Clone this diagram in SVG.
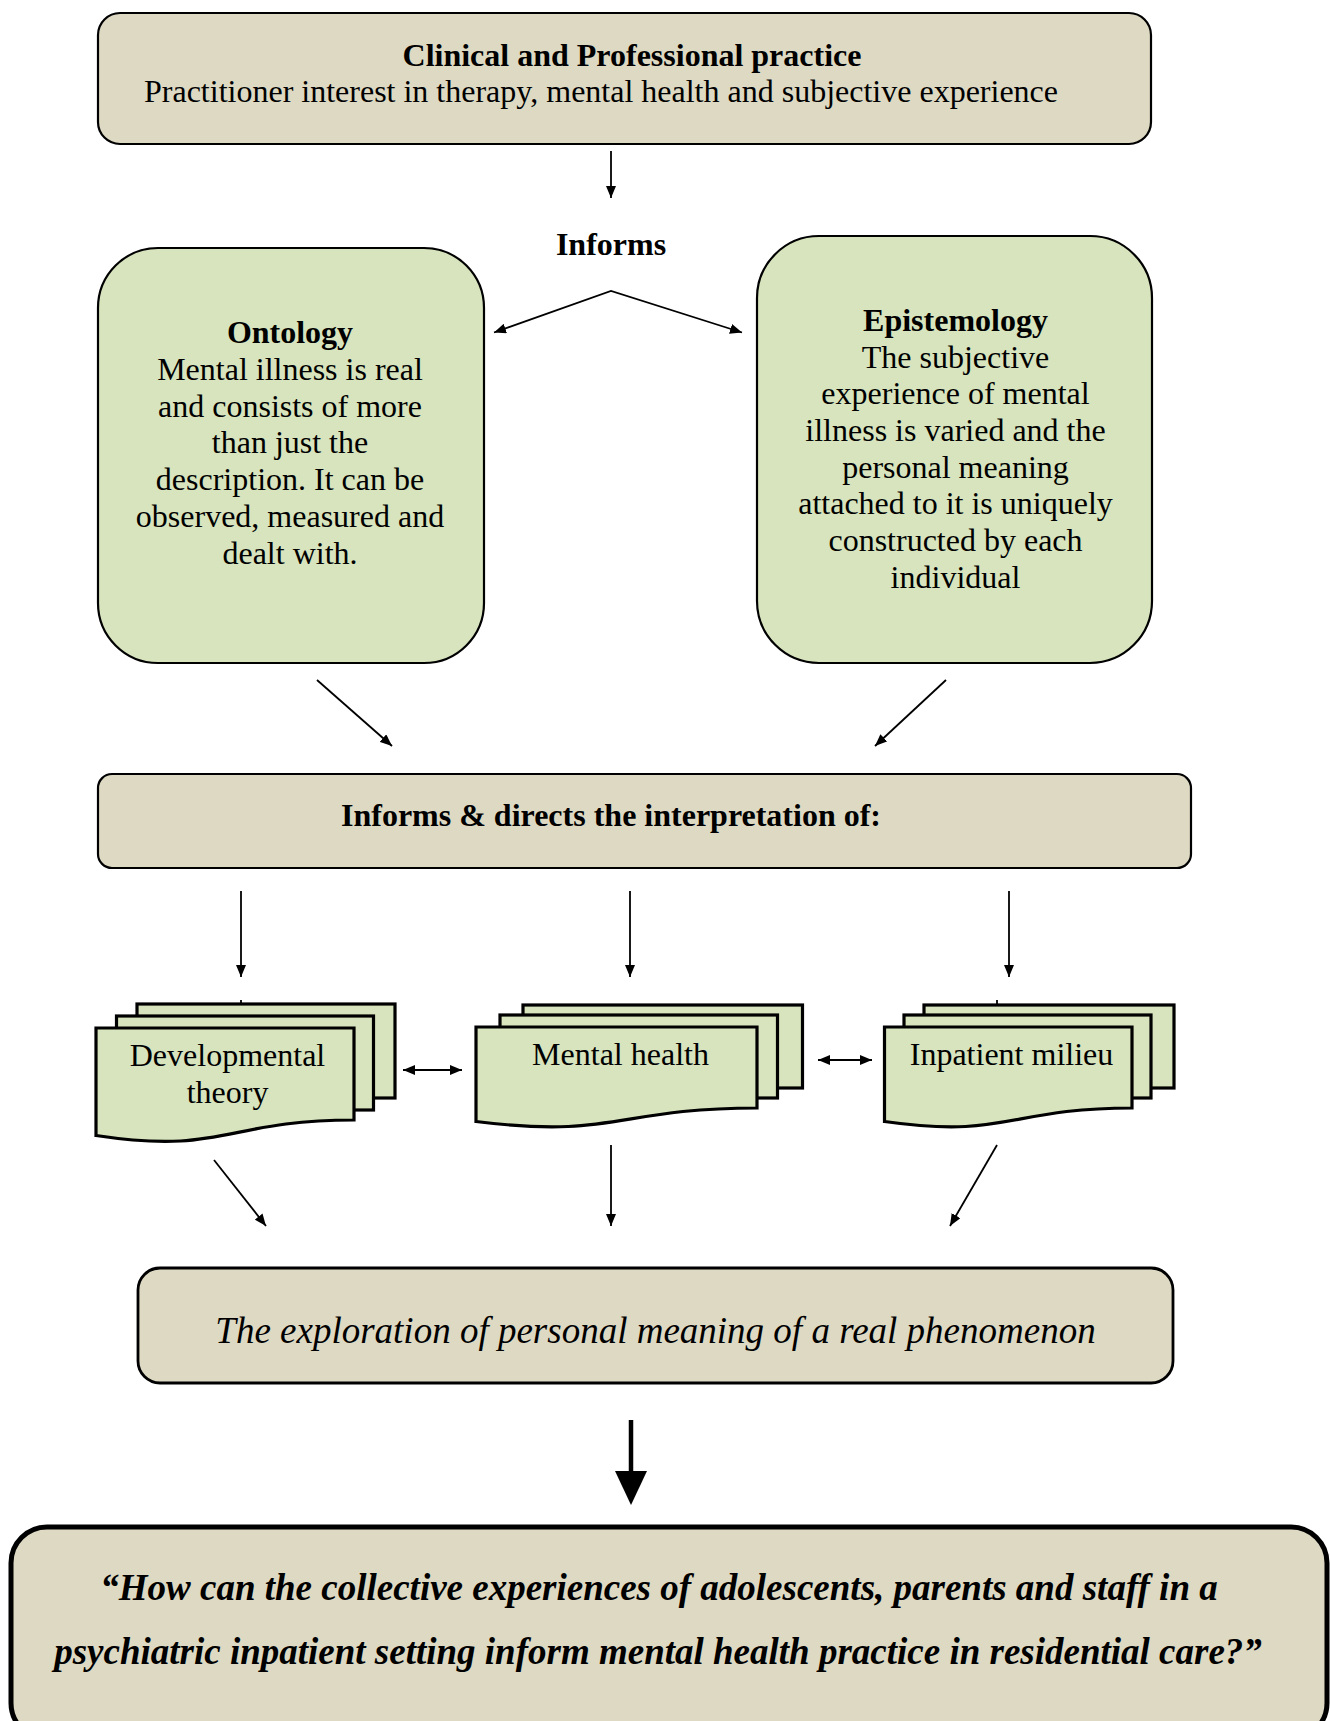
<svg xmlns="http://www.w3.org/2000/svg" width="1330" height="1721" viewBox="0 0 1330 1721">
<defs>
<style>
text{font-family:"Liberation Serif","Times New Roman",serif;fill:#000;text-anchor:middle}
.t{font-size:32px}
.b{font-size:32px;font-weight:bold}
.beige{fill:#ddd9c3;stroke:#000;stroke-width:2.2}
.green{fill:#d7e4bd;stroke:#000;stroke-width:2.2}
.doc{fill:#d7e4bd;stroke:#000;stroke-width:3.2;stroke-linejoin:miter}
.ln{fill:none;stroke:#000;stroke-width:1.8}
</style>
<marker id="ah" viewBox="0 0 12 10" refX="12" refY="5" markerWidth="12" markerHeight="10" markerUnits="userSpaceOnUse" orient="auto-start-reverse">
<path d="M0,0 L12,5 L0,10 z" fill="#000"/>
</marker>
</defs>
<rect width="1330" height="1721" fill="#fff"/>

<g id="clinical">
<rect class="beige" x="98" y="13" width="1053" height="131" rx="22"/>
<text class="b" x="632" y="66">Clinical and Professional practice</text>
<text class="t" x="601" y="102">Practitioner interest in therapy, mental health and subjective experience</text>
</g>

<g id="informs-label">
<text class="b" x="611" y="255">Informs</text>
</g>

<g id="ontology">
<rect class="green" x="98" y="248" width="386" height="415" rx="60"/>
<text class="b" x="290" y="343">Ontology</text>
<text class="t" x="290" y="380">Mental illness is real</text>
<text class="t" x="290" y="416.5">and consists of more</text>
<text class="t" x="290" y="453">than just the</text>
<text class="t" x="290" y="490">description. It can be</text>
<text class="t" x="290" y="527">observed, measured and</text>
<text class="t" x="290" y="564">dealt with.</text>
</g>

<g id="epistemology">
<rect class="green" x="757" y="236" width="395" height="427" rx="62"/>
<text class="b" x="955.5" y="331">Epistemology</text>
<text class="t" x="955.5" y="367.5">The subjective</text>
<text class="t" x="955.5" y="404">experience of mental</text>
<text class="t" x="955.5" y="441">illness is varied and the</text>
<text class="t" x="955.5" y="477.5">personal meaning</text>
<text class="t" x="955.5" y="514">attached to it is uniquely</text>
<text class="t" x="955.5" y="551">constructed by each</text>
<text class="t" x="955.5" y="587.5">individual</text>
</g>

<g id="interpretation">
<rect class="beige" x="98" y="774" width="1093" height="94" rx="14"/>
<text class="b" x="611" y="826">Informs &amp; directs the interpretation of:</text>
</g>

<g id="developmental">
<rect class="doc" x="137" y="1004" width="258" height="94"/>
<rect class="doc" x="116.5" y="1016" width="257" height="94"/>
<path class="doc" d="M96,1028 H354 V1120 C225,1120 225,1155 96,1135.5 Z"/>
<text class="t" x="227.5" y="1066">Developmental</text>
<text class="t" x="227.5" y="1103">theory</text>
</g>

<g id="mental-health">
<rect class="doc" x="523" y="1005" width="279.5" height="83"/>
<rect class="doc" x="500" y="1015" width="277.5" height="83"/>
<path class="doc" d="M476,1027 H757 V1108 C616.5,1108 616.5,1139 476,1121.5 Z"/>
<text class="t" x="620.5" y="1065">Mental health</text>
</g>

<g id="inpatient">
<rect class="doc" x="924" y="1005" width="250" height="83"/>
<rect class="doc" x="904" y="1015" width="247" height="83"/>
<path class="doc" d="M884.5,1027 H1132 V1108 C1008,1108 1008,1139 884.5,1121.5 Z"/>
<text class="t" x="1011.5" y="1065">Inpatient milieu</text>
</g>

<g id="exploration">
<rect class="beige" x="138" y="1268" width="1035" height="115" rx="22" style="stroke-width:2.8"/>
<text x="655.5" y="1343" style="font-size:37px;font-style:italic">The exploration of personal meaning of a real phenomenon</text>
</g>

<g id="question">
<rect x="11" y="1527" width="1316" height="212" rx="36" fill="#ddd9c3" stroke="#000" stroke-width="5"/>
<text x="659" y="1600" style="font-size:37px;font-style:italic;font-weight:bold">“How can the collective experiences of adolescents, parents and staff in a</text>
<text x="658" y="1664" style="font-size:37px;font-style:italic;font-weight:bold">psychiatric inpatient setting inform mental health practice in residential care?”</text>
</g>

<g id="connectors">
<line class="ln" x1="611" y1="151" x2="611" y2="198" marker-end="url(#ah)"/>
<path class="ln" d="M494,332.5 L611,291 L742,332.5" marker-start="url(#ah)" marker-end="url(#ah)"/>
<line class="ln" x1="317" y1="680" x2="392" y2="746" marker-end="url(#ah)"/>
<line class="ln" x1="946" y1="680" x2="875" y2="746" marker-end="url(#ah)"/>
<line class="ln" x1="241" y1="891" x2="241" y2="977" marker-end="url(#ah)"/>
<line class="ln" x1="630" y1="891" x2="630" y2="977" marker-end="url(#ah)"/>
<line class="ln" x1="1009" y1="891" x2="1009" y2="977" marker-end="url(#ah)"/>
<line class="ln" x1="241" y1="1000" x2="241" y2="1004"/>
<line class="ln" x1="997" y1="1000" x2="997" y2="1005"/>
<line class="ln" x1="403" y1="1070" x2="462" y2="1070" marker-start="url(#ah)" marker-end="url(#ah)"/>
<line class="ln" x1="818" y1="1060" x2="872" y2="1060" marker-start="url(#ah)" marker-end="url(#ah)"/>
<line class="ln" x1="214" y1="1160" x2="266" y2="1226" marker-end="url(#ah)"/>
<line class="ln" x1="611" y1="1145" x2="611" y2="1226" marker-end="url(#ah)"/>
<line class="ln" x1="997" y1="1145" x2="950" y2="1226" marker-end="url(#ah)"/>
<line x1="631" y1="1420" x2="631" y2="1474" stroke="#000" stroke-width="4.5"/>
<polygon points="615,1471 647,1471 631,1505" fill="#000"/>
</g>
</svg>
